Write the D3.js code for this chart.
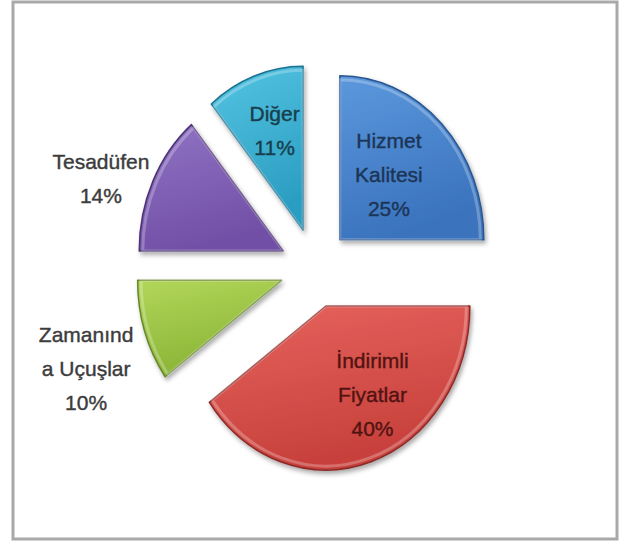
<!DOCTYPE html>
<html>
<head>
<meta charset="utf-8">
<script src="https://cdn.jsdelivr.net/npm/d3@7"></script>
<style>
  body { margin: 0; background: #fff; }
  svg text { font-family: "Liberation Sans", Arial, sans-serif; }
</style>
</head>
<body>
<div id="chart"></div>
<script>
// veriler
var categories = ["Hizmet Kalitesi", "İndirimli Fiyatlar", "Zamanında Uçuşlar", "Tesadüfen", "Diğer"];
var values = [25, 40, 10, 14, 11];
var labelLines = [["Hizmet", "Kalitesi"], ["İndirimli", "Fiyatlar"], ["Zamanınd", "a Uçuşlar"], ["Tesadüfen"], ["Diğer"]];

// renkler: [ust, alt, kenar, yazi]
var colors = [
    ["#5c98dd", "#3a73bd", "#2b5690", "#1c3557"],
    ["#e6635d", "#c7403b", "#8a2a27", "#521412"],
    ["#b2d65a", "#8ab435", "#66862a", "#3c3c3c"],
    ["#9073c4", "#7150a6", "#4b3373", "#3c3c3c"],
    ["#55c4e2", "#2b9ec2", "#1d7290", "#173f4e"]
];
// etiket yeri: [dilim icindeki aci orani, yaricap carpani]
var labelPlace = [[0.455, 0.52], [0.41, 0.63], [0.40, 1.46], [0.38, 1.34], [0.545, 0.64]];

var width = 621, height = 543;
var cx = 315, cy = 268;      // pastanin merkezi
var radius = 164;
var squeeze = 0.878;         // yatay basiklik
var explode = 40;
var lineH = 34;

var svg = d3.select("#chart").append("svg")
    .attr("width", width)
    .attr("height", height);

var defs = svg.append("defs");

colors.forEach(function(c, i){
    var gr = defs.append("linearGradient")
        .attr("id", "grad" + i)
        .attr("x1", 0).attr("y1", 0).attr("x2", 0.3).attr("y2", 1);
    gr.append("stop").attr("offset", "0%").attr("stop-color", c[0]);
    gr.append("stop").attr("offset", "100%").attr("stop-color", c[1]);
});

var shadow = defs.append("filter").attr("id", "shadow")
    .attr("x", "-10%").attr("y", "-10%").attr("width", "130%").attr("height", "130%");
shadow.append("feDropShadow")
    .attr("dx", 2).attr("dy", 3).attr("stdDeviation", 2.5)
    .attr("flood-color", "#000").attr("flood-opacity", 0.35);

var frameBlur = defs.append("filter").attr("id", "fblur");
frameBlur.append("feGaussianBlur").attr("stdDeviation", 0.7);

// cerceve
svg.append("rect")
    .attr("x", 13).attr("y", 2)
    .attr("width", 604).attr("height", 537)
    .attr("fill", "#fff")
    .attr("stroke", "#a9a9a9")
    .attr("stroke-width", 3)
    .attr("filter", "url(#fblur)");

var pie = d3.pie().sort(null).value(function(d){ return d; });
var arcs = pie(values);

var arc = d3.arc().innerRadius(0).outerRadius(radius);

function point(a, r){
    return [Math.sin(a) * r * squeeze, -Math.cos(a) * r];
}

function apex(d){
    var m = (d.startAngle + d.endAngle) / 2;
    var p = point(m, explode);
    return [cx + p[0], cy + p[1]];
}

var slices = svg.append("g").selectAll("g")
    .data(arcs)
    .enter().append("g")
    .attr("transform", function(d){
        var o = apex(d);
        return "translate(" + o[0] + "," + o[1] + ")";
    });

slices.append("path")
    .attr("d", arc)
    .attr("transform", "scale(" + squeeze + ",1)")
    .attr("fill", function(d, i){ return "url(#grad" + i + ")"; })
    .attr("stroke", function(d, i){ return colors[i][2]; })
    .attr("stroke-width", 1.5)
    .attr("stroke-linejoin", "round")
    .attr("vector-effect", "non-scaling-stroke")
    .attr("filter", "url(#shadow)");

// ic parlama
slices.append("path")
    .attr("d", d3.arc().innerRadius(0).outerRadius(radius - 4))
    .attr("transform", "scale(" + squeeze + ",1)")
    .attr("fill", "none")
    .attr("stroke", "#fff")
    .attr("stroke-opacity", 0.25)
    .attr("stroke-width", 3)
    .attr("vector-effect", "non-scaling-stroke");

// etiketler
var labels = svg.append("g");
arcs.forEach(function(d, i){
    var lines = labelLines[i].concat([values[i] + "%"]);
    var h = lines.length * lineH;
    var a = d.startAngle + labelPlace[i][0] * (d.endAngle - d.startAngle);
    var o = apex(d);
    var p = point(a, radius * labelPlace[i][1]);
    var lx = o[0] + p[0], ly = o[1] + p[1];
    var t = labels.append("text")
        .attr("text-anchor", "middle")
        .attr("font-size", 21)
        .attr("fill", colors[i][3])
        .attr("stroke", colors[i][3])
        .attr("stroke-width", 0.4);
    lines.forEach(function(s, k){
        t.append("tspan")
            .attr("x", lx)
            .attr("y", ly - h / 2 + lineH * k + lineH / 2 + 7)
            .text(s);
    });
});
</script>
</body>
</html>
